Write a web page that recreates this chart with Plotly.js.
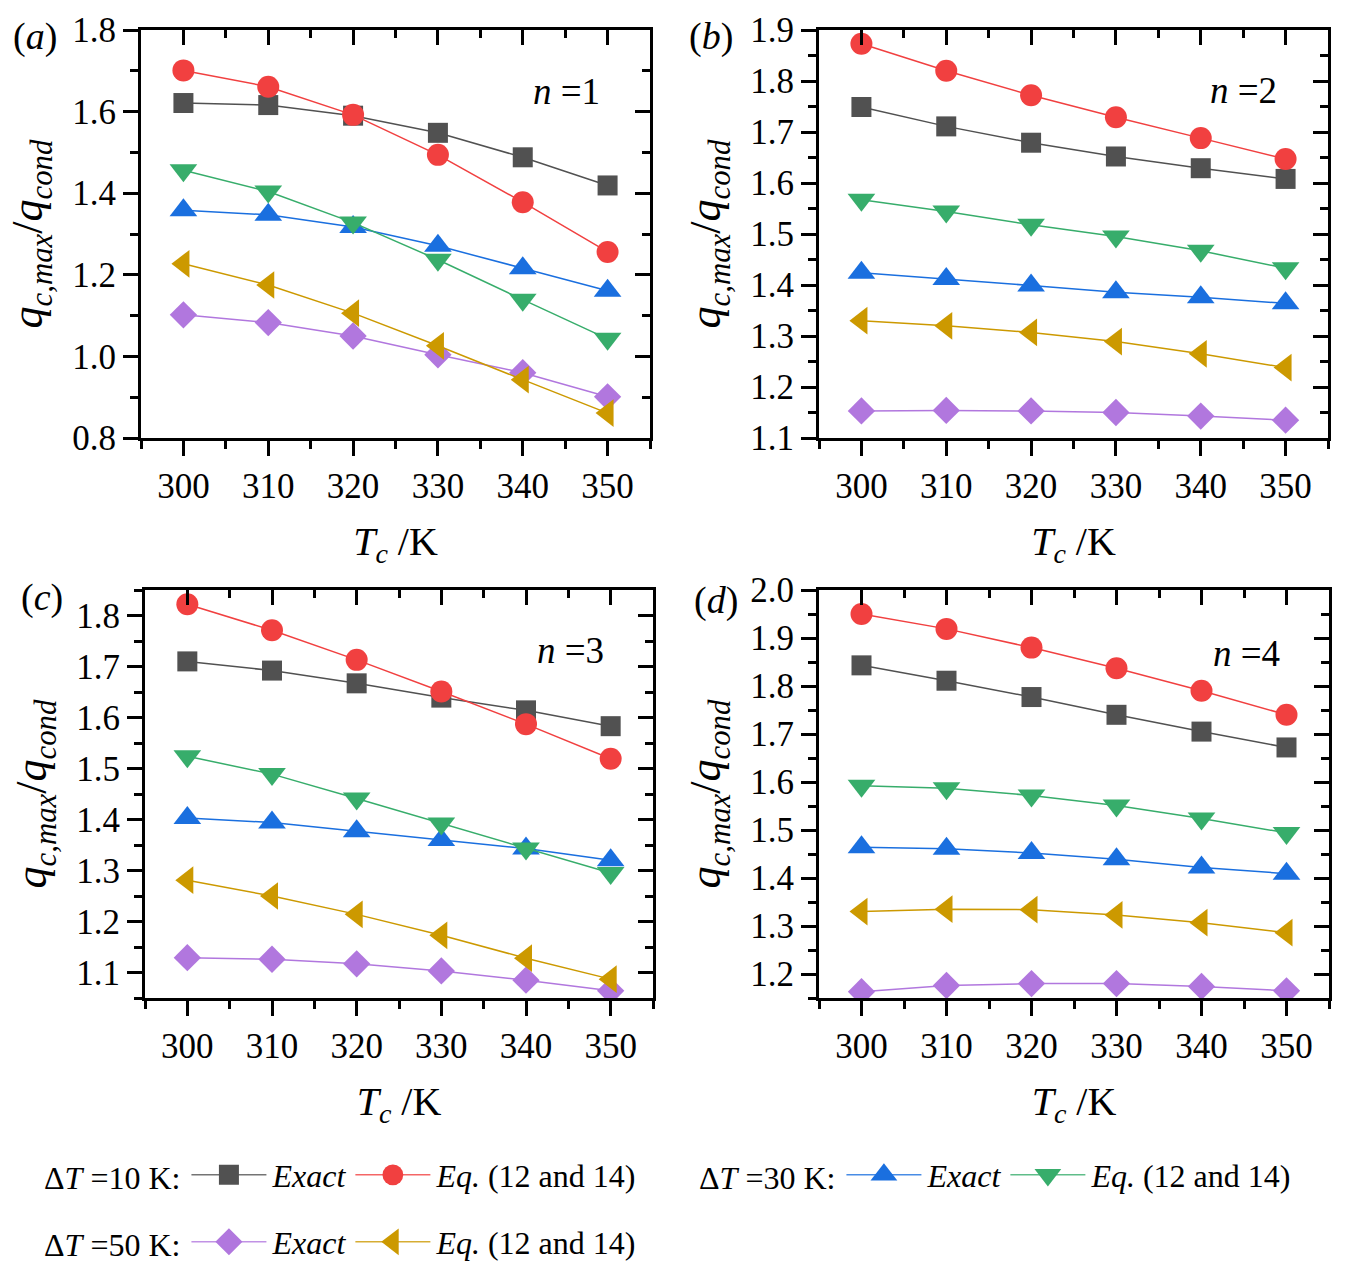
<!DOCTYPE html>
<html>
<head>
<meta charset="utf-8">
<script src="https://cdn.plot.ly/plotly-3.0.1.min.js"></script>
<style>
  html, body { margin: 0; padding: 0; background: #fff; }
  #plot { width: 1347px; height: 1272px; }
</style>
</head>
<body>
<div id="plot"></div>
<script>
var Tc = [300, 310, 320, 330, 340, 350];

// n = 1
var n1_exact10 = [1.621, 1.616, 1.590, 1.548, 1.488, 1.419];
var n1_eq10    = [1.701, 1.661, 1.592, 1.494, 1.378, 1.256];
var n1_exact30 = [1.358, 1.347, 1.317, 1.271, 1.216, 1.161];
var n1_eq30    = [1.456, 1.404, 1.328, 1.237, 1.139, 1.043];
var n1_exact50 = [1.102, 1.083, 1.050, 1.004, 0.960, 0.901];
var n1_eq50    = [1.227, 1.175, 1.106, 1.026, 0.943, 0.861];

// n = 2
var n2_exact10 = [1.749, 1.711, 1.679, 1.652, 1.629, 1.608];
var n2_eq10    = [1.873, 1.820, 1.772, 1.729, 1.688, 1.647];
var n2_exact30 = [1.424, 1.412, 1.399, 1.386, 1.376, 1.364];
var n2_eq30    = [1.567, 1.544, 1.518, 1.495, 1.467, 1.433];
var n2_exact50 = [1.153, 1.154, 1.153, 1.150, 1.143, 1.135];
var n2_eq50    = [1.330, 1.320, 1.307, 1.289, 1.265, 1.238];

// n = 3
var n3_exact10 = [1.710, 1.692, 1.667, 1.639, 1.614, 1.583];
var n3_eq10    = [1.822, 1.771, 1.713, 1.651, 1.587, 1.519];
var n3_exact30 = [1.403, 1.394, 1.377, 1.360, 1.343, 1.320];
var n3_eq30    = [1.524, 1.489, 1.441, 1.392, 1.343, 1.295];
var n3_exact50 = [1.129, 1.126, 1.117, 1.103, 1.085, 1.064];
var n3_eq50    = [1.281, 1.250, 1.214, 1.173, 1.128, 1.087];

// n = 4
var n4_exact10 = [1.843, 1.811, 1.777, 1.740, 1.705, 1.672];
var n4_eq10    = [1.950, 1.919, 1.880, 1.837, 1.790, 1.740];
var n4_exact30 = [1.464, 1.461, 1.452, 1.439, 1.422, 1.409];
var n4_eq30    = [1.592, 1.587, 1.572, 1.551, 1.524, 1.494];
var n4_exact50 = [1.163, 1.176, 1.180, 1.180, 1.174, 1.165];
var n4_eq50    = [1.330, 1.335, 1.334, 1.323, 1.307, 1.286];

var W = 1347, H = 1272;
var FONT = 'Liberation Serif, Times New Roman, serif';

// series styles (Origin palette); legScale enlarges the capped legend keys
var series = [
  {name: '<i>Exact</i>',           color: '#515151', symbol: 'square',        size: 20, legend: 'legend',  legScale: 1.25},
  {name: '<i>Eq.</i> (12 and 14)', color: '#F14040', symbol: 'circle',        size: 22, legend: 'legend',  legScale: 1.3},
  {name: '<i>Exact</i>',           color: '#1A6FDF', symbol: 'triangle-up',   size: 24, legend: 'legend2', legScale: 1.45},
  {name: '<i>Eq.</i> (12 and 14)', color: '#37AD6B', symbol: 'triangle-down', size: 24, legend: 'legend2', legScale: 1.45},
  {name: '<i>Exact</i>',           color: '#B177DE', symbol: 'diamond',       size: 21, legend: 'legend3', legScale: 1.3},
  {name: '<i>Eq.</i> (12 and 14)', color: '#CC9900', symbol: 'triangle-left', size: 24, legend: 'legend3', legScale: 1.45}
];

// panel boxes in pixels: left, right, top, bottom
var panels = [
  {box: [141, 650, 30, 438],  yr: [0.8, 1.8],   dt: 0.2, lab: 'a', n: 1, lx: 35,  ly: 37,  nx: 566,  ny: 92,
   data: [n1_exact10, n1_eq10, n1_exact30, n1_eq30, n1_exact50, n1_eq50]},
  {box: [819, 1328, 30, 438], yr: [1.1, 1.9],   dt: 0.1, lab: 'b', n: 2, lx: 711, ly: 37,  nx: 1243, ny: 90,
   data: [n2_exact10, n2_eq10, n2_exact30, n2_eq30, n2_exact50, n2_eq50]},
  {box: [145, 653, 590, 998], yr: [1.05, 1.85], dt: 0.1, lab: 'c', n: 3, lx: 42,  ly: 597, nx: 570,  ny: 650,
   data: [n3_exact10, n3_eq10, n3_exact30, n3_eq30, n3_exact50, n3_eq50]},
  {box: [819, 1329, 590, 998], yr: [1.15, 2.0], dt: 0.1, lab: 'd', n: 4, lx: 716, ly: 600, nx: 1246, ny: 653,
   data: [n4_exact10, n4_eq10, n4_exact30, n4_eq30, n4_exact50, n4_eq50]}
];

var traces = [];
var layout = {
  width: W, height: H,
  margin: {l: 0, r: 0, t: 0, b: 0},
  paper_bgcolor: '#fff', plot_bgcolor: '#fff',
  font: {family: FONT, size: 34, color: '#000'},
  annotations: [],
  showlegend: true
};

panels.forEach(function (p, i) {
  var k = i + 1, ko = i + 5;
  var xs = k === 1 ? '' : String(k);
  var xd = [p.box[0] / W, p.box[1] / W];
  var yd = [1 - p.box[3] / H, 1 - p.box[2] / H];

  var common = {showgrid: false, zeroline: false, showline: true, linewidth: 3, linecolor: '#000',
                ticklen: 15, tickwidth: 3, tickcolor: '#000'};

  layout['xaxis' + xs] = Object.assign({}, common, {
    domain: xd, anchor: 'y' + xs, range: [295, 355],
    tick0: 300, dtick: 10, ticks: 'outside',
    tickfont: {family: FONT, size: 35},
    minor: {ticks: 'outside', ticklen: 8, tickwidth: 3, tickcolor: '#000', dtick: 5, tick0: 300},
    title: {text: '<i>T</i><sub><i>c</i></sub> /K', font: {family: FONT, size: 40}, standoff: 22}
  });
  layout['yaxis' + xs] = Object.assign({}, common, {
    domain: yd, anchor: 'x' + xs, range: p.yr,
    tick0: 0, dtick: p.dt, ticks: 'outside', tickformat: '.1f',
    tickfont: {family: FONT, size: 35},
    minor: {ticks: 'outside', ticklen: 8, tickwidth: 3, tickcolor: '#000', dtick: p.dt / 2, tick0: 0},
    title: {text: '<i>q</i><sub><i>c,max</i></sub>/<i>q</i><sub><i>cond</i></sub>',
            font: {family: FONT, size: 44}, standoff: 16}
  });
  // mirrored frame with inward ticks on top and right
  layout['xaxis' + ko] = Object.assign({}, common, {
    overlaying: 'x' + xs, side: 'top', anchor: 'y' + ko, range: [295, 355],
    tick0: 300, dtick: 10, ticks: 'inside', showticklabels: false,
    minor: {ticks: 'inside', ticklen: 8, tickwidth: 3, tickcolor: '#000', dtick: 5, tick0: 300}
  });
  layout['yaxis' + ko] = Object.assign({}, common, {
    overlaying: 'y' + xs, side: 'right', anchor: 'x' + ko, range: p.yr,
    tick0: 0, dtick: p.dt, ticks: 'inside', showticklabels: false,
    minor: {ticks: 'inside', ticklen: 8, tickwidth: 3, tickcolor: '#000', dtick: p.dt / 2, tick0: 0}
  });
  traces.push({x: [], y: [], type: 'scatter', mode: 'markers', xaxis: 'x' + ko, yaxis: 'y' + ko,
               showlegend: false, hoverinfo: 'skip'});

  series.forEach(function (s, j) {
    traces.push({
      x: Tc, y: p.data[j], type: 'scatter', mode: 'lines+markers',
      xaxis: 'x' + xs, yaxis: 'y' + xs,
      name: s.name, legend: s.legend, showlegend: i === 0,
      line: {color: s.color, width: 1.5},
      marker: {color: s.color, symbol: s.symbol, size: s.size, line: {width: 0}}
    });
  });

  layout.annotations.push({
    xref: 'paper', yref: 'paper', x: p.lx / W, y: 1 - p.ly / H,
    xanchor: 'center', yanchor: 'middle', showarrow: false,
    text: '(<i>' + p.lab + '</i>)', font: {family: FONT, size: 38}
  });
  layout.annotations.push({
    xref: 'paper', yref: 'paper', x: p.nx / W, y: 1 - p.ny / H,
    xanchor: 'center', yanchor: 'middle', showarrow: false,
    text: '<i>n</i> =' + p.n, font: {family: FONT, size: 37}
  });
});

var legBase = {orientation: 'h', xanchor: 'left', yanchor: 'middle', bgcolor: 'rgba(0,0,0,0)',
               font: {family: FONT, size: 32}, itemwidth: 74, tracegroupgap: 0};
layout.legend  = Object.assign({}, legBase, {x: 42 / W,  y: 1 - 1175 / H,
  title: {text: '\u0394<i>T</i> =10 K:', side: 'left', font: {family: FONT, size: 32}}});
layout.legend2 = Object.assign({}, legBase, {x: 697 / W, y: 1 - 1175 / H,
  title: {text: '\u0394<i>T</i> =30 K:', side: 'left', font: {family: FONT, size: 32}}});
layout.legend3 = Object.assign({}, legBase, {x: 42 / W,  y: 1 - 1242 / H,
  title: {text: '\u0394<i>T</i> =50 K:', side: 'left', font: {family: FONT, size: 32}}});

Plotly.newPlot('plot', traces, layout, {displayModeBar: false, staticPlot: true}).then(function (gd) {
  // Origin-style legend keys: longer, lighter line with a larger marker centred on it
  gd.querySelectorAll('g.traces').forEach(function (item) {
    var d = item.__data__;
    var tr = d && d[0] && d[0].trace;
    if (!tr) return;
    var s = series.filter(function (q) { return q.symbol === tr.marker.symbol; })[0];
    var sc = s ? s.legScale : 1.25;
    item.querySelectorAll('.legendlines path').forEach(function (el) {
      el.setAttribute('d', 'M3,0h75');
      el.style.strokeOpacity = 0.8;
    });
    item.querySelectorAll('.legendpoints path.scatterpts').forEach(function (el) {
      el.setAttribute('transform', 'translate(40.5,0) scale(' + sc + ')');
    });
  });
});
</script>
</body>
</html>
